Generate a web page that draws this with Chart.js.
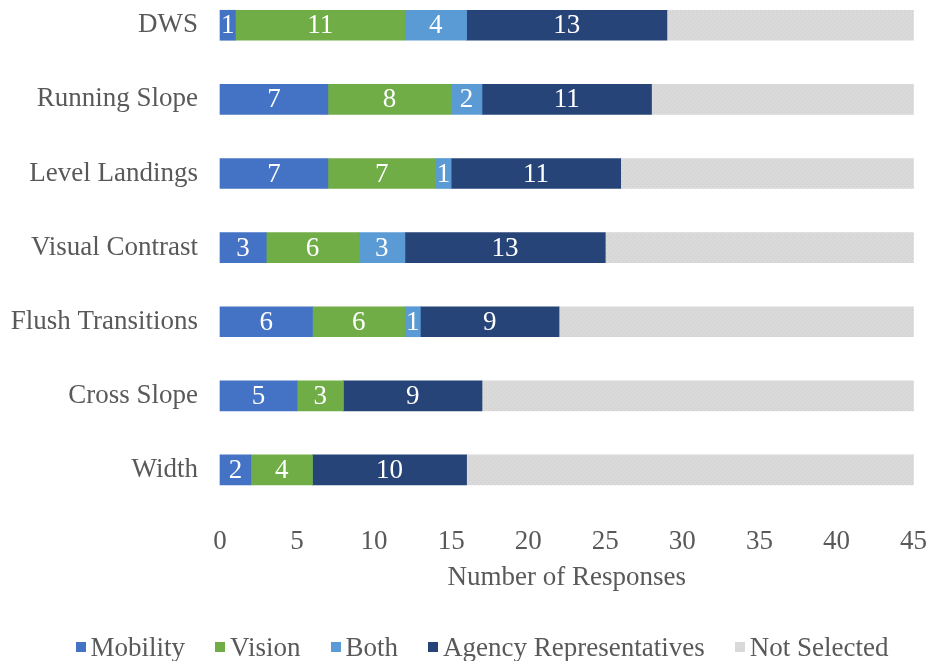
<!DOCTYPE html>
<html>
<head>
<meta charset="utf-8">
<script src="https://cdn.jsdelivr.net/npm/chart.js@4"></script>
<style>
  html, body { margin:0; padding:0; background:#fff; }
  body { width:930px; height:661px; position:relative; overflow:hidden; font-family:"Liberation Serif", serif; }
  #wrap { position:absolute; left:0; top:-50px; width:946px; height:711px; }
  #legend { position:absolute; left:17px; top:632px; width:930px; display:flex; justify-content:center; color:#595959; font-size:27px; line-height:30px; }
  #legend .item { display:flex; align-items:center; margin:0 15px; }
  #legend .box { width:10px; height:10px; margin-right:5px; }
</style>
</head>
<body>
<div id="wrap"><canvas id="chart"></canvas></div>
<div id="legend"></div>
<script>
// DATA
const categories = ['DWS','Running Slope','Level Landings','Visual Contrast','Flush Transitions','Cross Slope','Width'];
const mobility = [1,7,7,3,6,5,2];
const vision = [11,8,7,6,6,3,4];
const both = [4,2,1,3,1,0,0];
const agency = [13,11,11,13,9,9,10];
const notSelected = [16,17,19,20,23,28,29];
const seriesNames = ['Mobility','Vision','Both','Agency Representatives','Not Selected'];
const xTicks = [0,5,10,15,20,25,30,35,40,45];

const FONT = '"Liberation Serif", "Times New Roman", serif';
const GREY = '#595959';

// light dotted fill for the not selected bars
function dotPattern() {
    const c = document.createElement('canvas');
    c.width = 4; c.height = 4;
    const g = c.getContext('2d');
    g.fillStyle = '#dadada';
    g.fillRect(0,0,4,4);
    g.fillStyle = '#cdcdcd';
    g.fillRect(0,0,1,1);
    g.fillRect(2,2,1,1);
    return g.createPattern(c,'repeat');
}

const colors = ['#4472C4','#70AD47','#5B9BD5','#264478', dotPattern()];
const legendColors = ['#4472C4','#70AD47','#5B9BD5','#264478','#d9d9d9'];
const values = [mobility, vision, both, agency, notSelected];

// LEGEND
const legendEl = document.getElementById('legend');
seriesNames.forEach((n,i)=>{
    const item = document.createElement('div');
    item.className = 'item';
    item.innerHTML = `<span class="box" style="background:${legendColors[i]}"></span><span>${n}</span>`;
    legendEl.appendChild(item);
});

// value labels in the middle of each segment
const segmentLabels = {
    id:'segmentLabels',
    afterDatasetsDraw(chart){
        const ctx = chart.ctx;
        ctx.save();
        ctx.font = '27px ' + FONT;
        ctx.fillStyle = '#ffffff';
        ctx.textAlign = 'center';
        ctx.textBaseline = 'middle';
        for (let d=0; d<4; d++) {
            chart.getDatasetMeta(d).data.forEach((bar,i)=>{
                const v = chart.data.datasets[d].data[i];
                if (!v) return;
                ctx.fillText(String(v), (bar.x + bar.base)/2, bar.y + 1);
            });
        }
        ctx.restore();
    }
};

new Chart(document.getElementById('chart'),{
    type:'bar',
    data:{
        labels:categories,
        datasets: seriesNames.map((n,i)=>({
            label:n,
            data:values[i],
            backgroundColor:colors[i],
            borderWidth:0,
            barThickness:30,
            clip:false
        }))
    },
    options:{
        indexAxis:'y',
        responsive:true,
        maintainAspectRatio:false,
        animation:false,
        layout:{ padding:{ left:0, right:0, top:0, bottom:63 } },
        plugins:{
            legend:{ display:false },
            tooltip:{ enabled:false }
        },
        scales:{
            x:{
                stacked:true,
                min:0, max:45,
                afterBuildTicks(scale){ scale.ticks = xTicks.map(v=>({value:v})); },
                afterFit(scale){ scale.height = 91; },
                grid:{ display:false, drawTicks:false },
                border:{ display:false },
                ticks:{ color:GREY, font:{ family:FONT, size:27 }, padding:19 },
                title:{ display:true, text:'Number of Responses', color:GREY, font:{ family:FONT, size:27 }, padding:{ top:2 } }
            },
            y:{
                stacked:true,
                afterFit(scale){ scale.width = 220; },
                grid:{ display:false, drawTicks:false },
                border:{ display:false },
                ticks:{ color:GREY, font:{ family:FONT, size:27 }, padding:22 }
            }
        }
    },
    plugins:[segmentLabels]
});
</script>
</body>
</html>
